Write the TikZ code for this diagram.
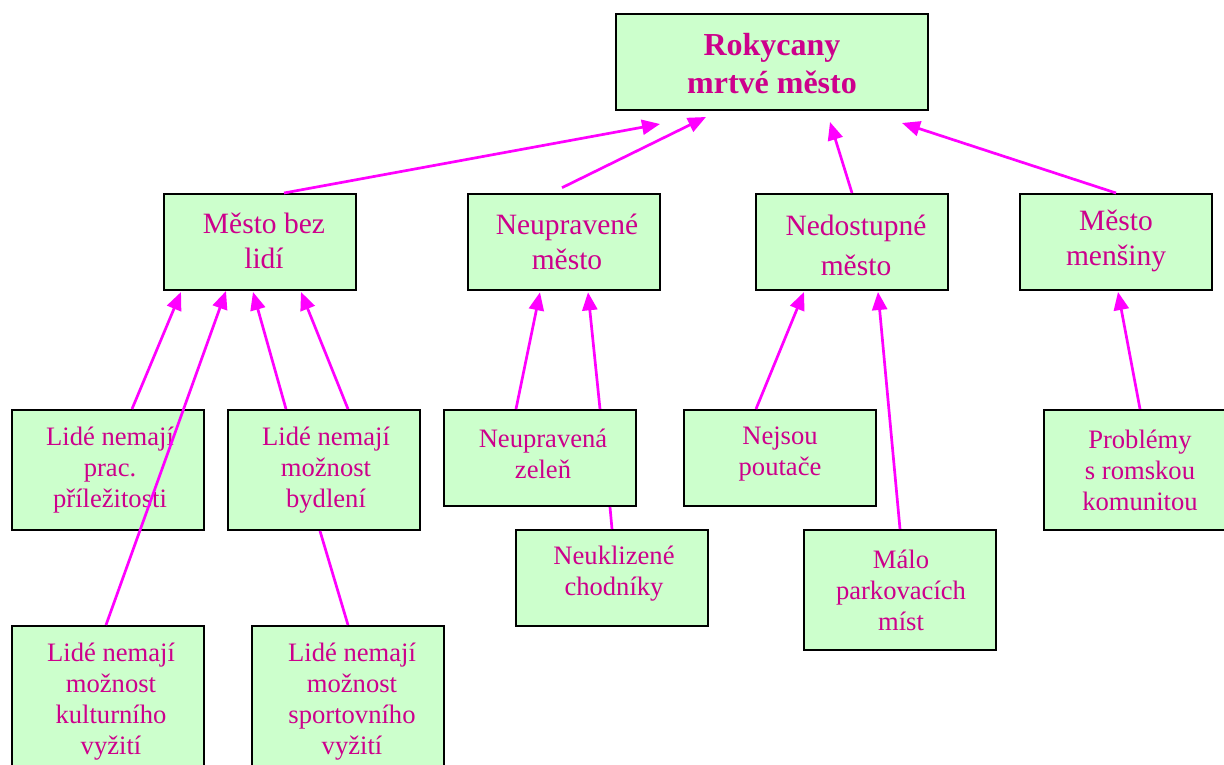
\documentclass[tikz,border=0pt]{standalone}
\usepackage{fontspec}
\setmainfont{Liberation Serif}
\usetikzlibrary{arrows.meta,calc}
\definecolor{boxfill}{RGB}{204,255,204}
\definecolor{txtcol}{RGB}{205,0,140}
\definecolor{arrcol}{RGB}{255,0,255}
\begin{document}
\begin{tikzpicture}[x=1pt,y=-1pt,
  box/.style={draw=black,line width=2pt,fill=boxfill,rectangle,inner sep=0pt},
  bigtxt/.style={text=txtcol,align=center,inner sep=0pt,font=\fontsize{29.5}{35}\selectfont},
  smalltxt/.style={text=txtcol,align=center,inner sep=0pt,font=\fontsize{26.6}{31}\selectfont},
  titletxt/.style={text=txtcol,align=center,inner sep=0pt,font=\fontsize{32}{38}\selectfont\bfseries},
  conn/.style={draw=arrcol,line width=2.7pt},
  arr/.style={conn,-{Triangle[length=18pt,width=15pt]}}
]
\useasboundingbox (0,0) rectangle (1224,765);
\clip (0,0) rectangle (1224,765);

% boxes
\node[box,minimum width=312pt,minimum height=96pt] (title) at (772,62) {};
\node[box,minimum width=192pt,minimum height=96pt] (mbl) at (260,242) {};
\node[box,minimum width=192pt,minimum height=96pt,line width=2.6pt] (nm) at (564,242) {};
\node[box,minimum width=192pt,minimum height=96pt] (nd) at (852,242) {};
\node[box,minimum width=192pt,minimum height=96pt] (mm) at (1116,242) {};
\node[box,minimum width=192pt,minimum height=120pt] (lp) at (108,470) {};
\node[box,minimum width=192pt,minimum height=120pt] (lb) at (324,470) {};
\node[box,minimum width=192pt,minimum height=96pt] (nz) at (540,458) {};
\node[box,minimum width=192pt,minimum height=96pt] (np) at (780,458) {};
\node[box,minimum width=192pt,minimum height=96pt] (nch) at (612,578) {};
\node[box,minimum width=192pt,minimum height=120pt] (ml) at (900,590) {};
\node[box,minimum width=192pt,minimum height=120pt] (pr) at (1140,470) {};
\node[box,minimum width=192pt,minimum height=150pt] (lk) at (108,701) {};
\node[box,minimum width=192pt,minimum height=150pt] (ls) at (348,701) {};

% texts
\node[titletxt] (ttitle) at (772,64) {Rokycany\\mrtvé město};
\node[bigtxt] (tmbl) at (264,241) {Město bez\\lidí};
\node[bigtxt] (tnm) at (567,242) {Neupravené\\město};
\node[bigtxt,font=\fontsize{29.5}{40}\selectfont] (tnd) at (856,245) {Nedostupné\\město};
\node[bigtxt] (tmm) at (1116,241) {Město\\menšiny};
\node[smalltxt] (tlp) at (110,470) {Lidé nemají\\prac.\\příležitosti};
\node[smalltxt] (tlb) at (326,470) {Lidé nemají\\možnost\\bydlení};
\node[smalltxt] (tnz) at (543,454) {Neupravená\\zeleň};
\node[smalltxt] (tnp) at (780,454) {Nejsou\\poutače};
\node[smalltxt] (tnch) at (614,574) {Neuklizené\\chodníky};
\node[smalltxt] (tml) at (901,590) {Málo\\parkovacích\\míst};
\node[smalltxt] (tpr) at (1140,470) {Problémy\\s romskou\\komunitou};
\node[smalltxt] (tlk) at (111,702) {Lidé nemají\\možnost\\kulturního\\vyžití};
\node[smalltxt] (tls) at (352,702) {Lidé nemají\\možnost\\sportovního\\vyžití};

% connectors
\draw[arr] ($(mbl.north)+(24,0)$) -- ($(title.south)+(-112,13)$);
\draw[arr] ($(nm.north)+(-2,-5)$) -- ($(title.south)+(-66,6)$);
\draw[arr] (nd.north) -- ($(title.south)+(58,11)$);
\draw[arr] (mm.north) -- ($(title.south)+(130,12)$);

\draw[arr] ($(lp.north)+(24,0)$) -- ($(mbl.south)+(-79,1)$);
\draw[arr] ($(lk.north)+(-2,0)$) -- ($(mbl.south)+(-34,0)$);
\draw[arr] ($(lb.north)+(-38,0)$) -- ($(mbl.south)+(-7,1)$);
\draw[arr] ($(lb.north)+(24,0)$) -- ($(mbl.south)+(41,1)$);
\draw[conn] (ls.north) -- ($(lb.south)+(-4,0)$);

\draw[arr] ($(nz.north)+(-24,0)$) -- ($(nm.south)+(-24,1)$);
\draw[arr] ($(nz.north)+(60,0)$) -- ($(nm.south)+(24,1)$);
\draw[conn] (nch.north) -- ($(nz.south)+(70,0)$);

\draw[arr] ($(np.north)+(-24,0)$) -- ($(nd.south)+(-48,1)$);
\draw[arr] (ml.north) -- ($(nd.south)+(26,1)$);

\draw[arr] (pr.north) -- ($(mm.south)+(2,1)$);
\end{tikzpicture}
\end{document}
